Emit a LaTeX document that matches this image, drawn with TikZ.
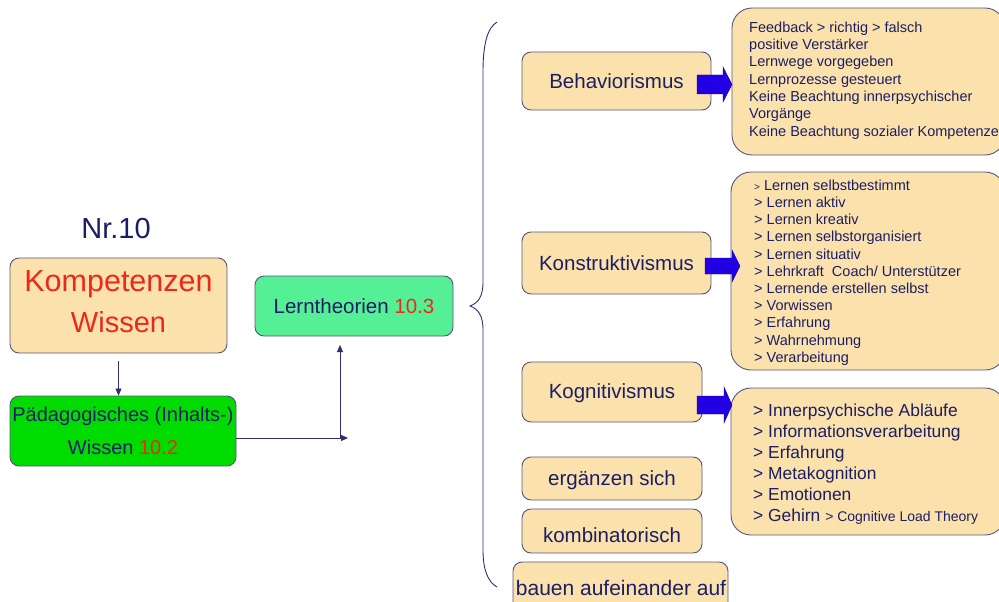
\documentclass[tikz,border=0pt]{standalone}
\usepackage{fontspec}
\setmainfont{Liberation Sans}
\usetikzlibrary{arrows.meta}
\definecolor{navy}{RGB}{28,30,100}
\definecolor{myred}{RGB}{238,40,25}
\definecolor{wheatfill}{RGB}{251,226,172}
\definecolor{edgecol}{RGB}{85,85,125}
\definecolor{brgreen}{RGB}{0,220,0}
\definecolor{mint}{RGB}{85,240,150}
\definecolor{blockblue}{RGB}{34,0,228}
\definecolor{linecol}{RGB}{45,45,120}
\begin{document}
\begin{tikzpicture}[x=1pt,y=-1pt,
  box/.style={draw=edgecol, line width=0.9pt, rounded corners=9pt, fill=wheatfill,
    text=navy, inner sep=0pt, font=\fontsize{20.5}{24}\selectfont},
  detailbox/.style={draw=edgecol, line width=0.9pt, rounded corners=20pt, fill=wheatfill, inner sep=0pt},
  dtext/.style={text=navy, align=left, anchor=north west, inner sep=0pt},
  plaintext/.style={text=navy, inner sep=0pt},
  conn/.style={draw=linecol, line width=0.8pt, -{Triangle[length=7pt,width=6pt]}},
  blockarrow/.style={fill=blockblue, draw=blockblue!70!black, line width=0.4pt},
]
\clip (0,0) rectangle (999,602);
\fill[white] (0,0) rectangle (999,602);

% left part
\node[plaintext, font=\fontsize{29}{34}\selectfont] (nr) at (116,229) {Nr.10};
\node[box, minimum width=217pt, minimum height=95pt] (komp) at (118.5,305.5) {};
\node[plaintext, text=myred, align=center, font=\fontsize{30.5}{41}\selectfont] (kompT) at (118.5,301.5)
  {Kompetenzen\\{\fontsize{29}{41}\selectfont Wissen}};
\node[box, fill=brgreen, minimum width=226pt, minimum height=70pt] (paed) at (123,431) {};
\node[plaintext, align=center, font=\fontsize{20}{33}\selectfont] (paedT) at (123,431)
  {Pädagogisches (Inhalts-)\\Wissen \textcolor{myred}{10.2}};
\node[box, fill=mint, minimum width=198pt, minimum height=60pt] (lern) at (354,306)
  {Lerntheorien \textcolor{myred}{10.3}};

\draw[conn, shorten <=8pt] (komp.south) -- (komp.south |- paed.north);
\coordinate (c1) at (348,438);
\coordinate (c2) at (340,345);
\draw[conn] (paed.east |- c1) -- (c1);
\draw[conn] (c2 |- c1) -- (c2);

% brace
\draw[linecol, line width=0.9pt]
  (497,22) .. controls (487,28) and (483,45) .. (483,72)
  -- (483,282) .. controls (483,297) and (478,303) .. (470,306)
  .. controls (478,309) and (483,315) .. (483,330)
  -- (483,550) .. controls (483,570) and (488,582) .. (497,587);

% right column boxes
\node[box, minimum width=189pt, minimum height=58pt] (behav) at (616.5,81) {Behaviorismus};
\node[box, minimum width=189pt, minimum height=62pt] (konstr) at (616.5,263) {Konstruktivismus};
\node[box, minimum width=180pt, minimum height=60pt] (kogn) at (612,392) {};
\node[plaintext, font=\fontsize{20.5}{24}\selectfont] (kognT) at (612,393) {Kognitivismus};
\node[box, minimum width=180pt, minimum height=43pt] (ergaenz) at (612,478.5) {};
\node[plaintext, font=\fontsize{20.5}{24}\selectfont] (ergaenzT) at (612,480) {ergänzen sich};
\node[box, minimum width=180pt, minimum height=44pt] (kombi) at (612,531) {};
\node[plaintext, font=\fontsize{20.5}{24}\selectfont] (kombiT) at (612,535.5) {kombinatorisch};
\node[box, minimum width=215pt, minimum height=50pt] (bauen) at (620.5,587) {};
\node[plaintext, font=\fontsize{21}{24}\selectfont] (bauenT) at (621,588) {bauen aufeinander auf};

% detail boxes
\node[detailbox, minimum width=273pt, minimum height=147pt] (behavD) at (868.5,81.5) {};
\node[dtext, font=\fontsize{14.5}{17.3}\selectfont] (behavDT) at (749,21.5)
  {Feedback > richtig > falsch\\
   positive Verstärker\\
   Lernwege vorgegeben\\
   Lernprozesse gesteuert\\
   Keine Beachtung innerpsychischer\\
   Vorgänge\\
   Keine Beachtung sozialer Kompetenzen};

\node[detailbox, minimum width=274pt, minimum height=198pt] (konstrD) at (868,271) {};
\node[dtext, font=\fontsize{14.5}{17.2}\selectfont] (konstrDT) at (754,179.5)
  {{\fontsize{10}{17.2}\selectfont >} Lernen selbstbestimmt\\
   > Lernen aktiv\\
   > Lernen kreativ\\
   > Lernen selbstorganisiert\\
   > Lernen situativ\\
   > Lehrkraft\ \ Coach/ Unterstützer\\
   > Lernende erstellen selbst\\
   > Vorwissen\\
   > Erfahrung\\
   > Wahrnehmung\\
   > Verarbeitung};

\node[detailbox, minimum width=274pt, minimum height=147pt] (kognD) at (868,461.5) {};
\node[dtext, font=\fontsize{17.4}{21}\selectfont] (kognDT) at (753,403.3)
  {> Innerpsychische Abläufe\\
   > Informationsverarbeitung\\
   > Erfahrung\\
   > Metakognition\\
   > Emotionen\\
   > Gehirn {\fontsize{14}{21}\selectfont > Cognitive Load Theory}};

% block arrows
\draw[blockarrow] (697,75) -- (723,75) -- (723,67) -- (732,84.5) -- (723,102) -- (723,94) -- (697,94) -- cycle;
\draw[blockarrow] (705,258) -- (732,258) -- (732,250) -- (740,266) -- (732,282) -- (732,274) -- (705,274) -- cycle;
\draw[blockarrow] (697,396) -- (724,396) -- (724,387) -- (732,405) -- (724,423) -- (724,414) -- (697,414) -- cycle;
\end{tikzpicture}
\end{document}
